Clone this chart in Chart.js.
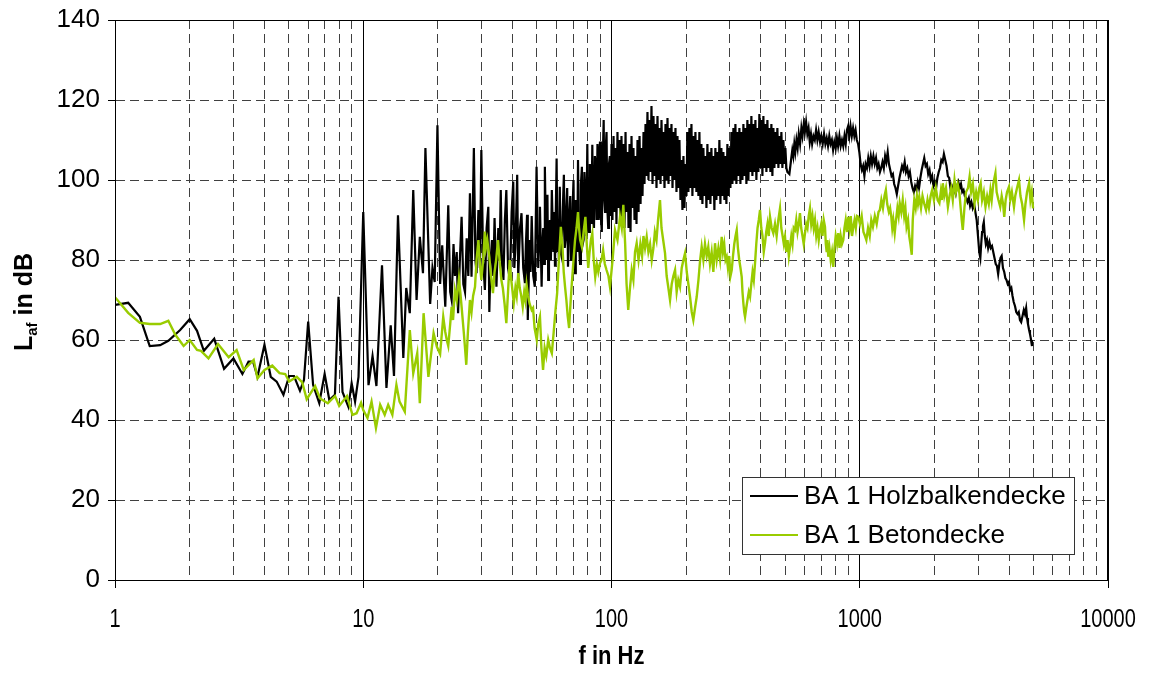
<!DOCTYPE html>
<html>
<head>
<meta charset="utf-8">
<script src="https://cdn.jsdelivr.net/npm/chart.js@4"></script>
<style>
  html, body { margin: 0; padding: 0; background: #fff; }
  canvas { display: block; }
</style>
</head>
<body>
<canvas id="c" width="1154" height="675"></canvas>
<script>
// ---- tick values / labels ----
const xGridValues = [1,2,3,4,5,6,7,8,9,10,20,30,40,50,60,70,80,90,100,200,300,400,500,600,700,800,900,1000,2000,3000,4000,5000,6000,7000,8000,9000,10000];
const xDecades = [1,10,100,1000,10000];
const xTickLabels = ['1','10','100','1000','10000'];
const yTicks = [0,20,40,60,80,100,120,140];
const seriesLabels = ['BA 1 Holzbalkendecke','BA 1 Betondecke'];
const seriesColors = ['#000000','#99CC00'];

// ---- series: [frequency Hz, level dB] ----
const holzPoints = [
[1,68.8],[1.13,69.3],[1.26,65.8],[1.38,58.5],[1.52,58.7],[1.64,59.8],[1.83,62.5],[2,65.2],[2.14,62.3],[2.28,57.3],
[2.51,60.3],[2.75,52.8],[3,55.4],[3.26,51.5],[3.45,54.6],[3.6,54.6],[3.75,50.8],[4,58.8],[4.24,50.8],[4.48,49.6],
[4.77,46.3],[5.03,51],[5.26,51],[5.56,47.3],[5.77,50],[6,64.6],[6.28,48.8],[6.65,44.2],[6.99,51.5],[7.3,45],
[7.69,46.3],[7.95,70.8],[8.25,47],[8.71,43.3],[8.98,49.2],[9.27,44.6],[9.57,50.8],[10,92],[10.5,48.7],[10.9,56],
[11.3,48.5],[11.9,78.7],[12.4,48],[12.9,63.7],[13.3,51],[13.8,91.2],[14.5,55.5],[14.9,73],[15.4,66.7],[15.9,97.5],
[16.4,70],[16.9,85.8],[17.4,76.7],[17.8,108],[18.6,69],[19,78],[19.4,74.5],[19.9,113.7],[20.4,74],[20.8,83.7],
[21.4,68.3],[22,93.7],[22.4,72],[22.7,70],[23.1,84],[23.4,76],[23.8,82],[24.1,66.7],[24.5,80],[24.9,90.8],
[25.3,74],[25.7,72],[26.1,85.4],[26.5,76],[26.9,96.7],[27.3,75.8],[27.9,108],[28.3,80],[28.6,76.7],[29.1,92.5],
[29.5,78],[29.9,107.5],[30.4,80],[30.9,72.5],[31.4,88],[31.9,93.3],[32.2,67],[32.6,80],[33,85],[33.4,76],
[33.8,90.5],[34.4,73.3],[35,88],[35.4,80],[35.8,97.5],[36.2,79],[36.7,75],[37.2,90],[37.7,97.5],[38.3,78],
[39,75],[39.6,92],[40.2,99.6],[40.6,78],[41,83],[41.7,101.3],[42.1,75.8],[42.8,88],[43.4,91.7],[44.1,78],
[44.8,74.2],[45.2,84],[45.7,91.3],[46,65],[46.8,85],[47.2,77],[47.7,91],[48.4,76],[49.1,73.3],[49.5,88],
[49.9,103.3],[50.7,78],[51.1,86],[51.5,93.3],[52.3,73.3],[52.7,84],[53.1,88],[53.5,79],[53.9,103.3],[54.6,80],
[55.2,96.3],[55.6,75],[56,86],[56.5,90],[57,80],[57.5,97.5],[58.3,82],[58.8,92],[59.2,78.3],[60.1,105.4],
[60.6,82],[61,88],[61.4,80],[61.9,98.3],[62.4,82],[63,80.8],[63.6,92],[64.3,101.3],[64.8,83],[65.3,85],
[65.8,93],[66.3,98],[66.8,78.3],[67.5,90],[68.2,96],[68.7,80],[69.3,82],[69.8,94],[70.3,100],[70.8,80],
[71.3,76.7],[71.8,95],[72.3,92],[72.8,82],[73.3,105],[74,84],[74.7,79],[75.3,99],[76,103.3],[76.6,84],
[77.2,85],[77.8,102],[78.5,96],[79.2,86],[79.9,109],[80.5,88],[81.2,87],[81.8,104],[82.4,100],[83,89],
[83.7,108.8],[84.3,90],[85,88],[85.7,106],[86.4,104],[87.1,90],[87.8,109],[88.3,93],[88.8,90],[89.4,107],
[89.9,109.6],[90.6,91],[91.4,87],[92.2,105],[93,115],[93.6,95],[94.2,92],[94.8,108],[95.5,112],[96.2,93],
[97,88],[97.7,104],[98.5,106],[99.2,91],
[100,109],[100.9,90],[101.9,111],[102.8,92],[103.8,108],[104.7,89],[105.7,112],[106.7,93],[107.7,110],[108.7,90],
[109.7,111],[110.7,91],[111.8,109],[112.8,88],[113.9,112],[114.9,92],[116,107],[117.1,88],[118.2,109],[119.3,87],
[120.4,111],[121.5,93],[122.6,108],[123.8,90],[124.9,106],[126.1,89],[127.3,110],[128.5,92],[129.7,111],[130.9,94],
[132.1,108],[133.3,96],[134.6,112],[135.8,99],[137.1,114],[138.3,101],[139.6,117],[140.9,100],[142.3,115],[143.6,102],
[144.9,118.5],[146.3,99],[147.6,116],[149,101],[150.4,114],[151.8,98],[153.2,116],[154.7,100],[156.1,113],[157.6,99],
[159,115],[160.5,101],[162,112],[163.5,98],[165,114],[166.6,100],[168.1,115.5],[169.7,99],[171.2,113],[172.8,101],
[174.4,114],[176.1,98],[177.7,112],[179.4,100],[181,113],[182.7,97],[184.4,111],[186.1,98],[187.8,110],[189.6,95],
[191.3,105],[193.1,92.5],[194.9,106],[196.7,93],[198.5,104],[200.4,96],[202.2,112],[204.1,97],[206,113],[207.9,98],
[209.9,114],[211.8,96],[213.8,111],[215.8,98],[217.8,112],[219.8,97],[221.9,110],[223.9,96],[226,112],[228.1,95],
[230.2,109],[232.4,94],[234.5,108],[236.7,96],[238.9,106],[241.2,93],[243.4,109],[245.7,95],[248,107],[250.3,94],
[252.6,108],[255,96],[257.3,106],[259.7,92.5],[262.1,108],[264.6,95],[267,107],[269.5,96],[272,110],[274.6,94],
[277.1,108],[279.7,96],[282.3,107],[285,95],[287.6,106],[290.3,94],[293,109],[295.7,96],[298.5,108],[301.3,98],
[304.1,112],[306.9,99],[309.8,113],[312.7,100],[315.6,114],[318.5,99],[321.5,112],[324.5,101],[327.5,113],[330.6,99],
[333.6,112],[336.8,100],[339.9,114],[343.1,101],[346.2,113],[349.5,99],[352.7,115],[356,100],[359.3,114],[362.7,102],
[366,116],[369.5,101],[372.9,114],[376.4,102],[379.9,115],[383.4,100],[387,113],[390.6,102],[394.2,116.5],[397.9,103],
[401.6,115],[405.4,101],[409.1,116],[412.9,103],[416.8,114],[420.7,102],[424.6,115],[428.5,103],[432.5,113],[436.6,102],
[440.6,114],[444.7,101],[448.9,113],[453.1,103],[457.3,112],[461.5,104],[465.8,113],[470.2,103],[474.5,111],[479,104],
[483.4,112],[487.9,103],[492.5,110],[497.1,104],[501.7,108],[506.4,103],[511.1,102],
[520.6,101.5],[530,105.5],[535,107.5],[540,106],[545,109],[550,107],[556,110],
[562,108],[568,111.5],[575,109],[582,113],[588,111],[595,114],[601,112],[608,114.5],[615,111.5],[622,113],
[629,109.5],[636,111.5],[643,109],[651,111],[659,110],[667,112.5],[675,110],[683,112],[692,109.5],[700,111],
[709,109],[718,111.5],[727,109],[736,110.5],[745,108.5],[754,111],[763,109],[772,110],[781,107.5],[790,109.5],
[800,108],[809,110.5],[818,108.5],[828,111],[838,108.5],[848,110],[858,108.5],[868,111],[878,109],[888,112.5],
[898,113.5],[908,111],[918,113.5],[929,111],[940,113],[951,111],[962,112.5],[973,110],[985,109],[996,107],
[1008,104],[1020,102.5],[1032,103.5],[1044,101],[1056,104],[1069,103],[1082,105.5],[1095,103.5],[1108,106],[1121,104],
[1135,106],[1149,104],[1163,105.5],[1177,103],[1191,104],[1206,102],[1220,103],[1235,104.5],[1250,103],[1265,106],
[1280,104.5],[1296,107],[1311,104],[1327,102.5],[1343,101],[1360,101.5],[1376,99],[1393,98],[1410,96.5],[1427,98.5],
[1445,100.5],[1462,102],[1480,103.5],[1498,102.5],[1517,104.5],[1535,102],[1554,103],[1573,101],[1592,102],[1612,99.5],
[1631,98],[1651,97],[1671,98.5],[1692,97.5],[1712,99.5],[1733,98],[1754,100.5],[1776,102.5],[1797,104],[1819,105.5],
[1842,103.5],[1864,104],[1887,101.5],[1910,102.5],[1933,100],[1957,101],[1981,98.5],[2005,99.5],[2030,98],[2054,100.5],
[2080,102],[2105,103],[2131,105],[2157,104.5],[2183,106.5],[2210,105],[2237,103.5],[2264,101],[2292,100.5],[2320,98],
[2348,98.5],[2377,97],[2406,97.5],[2435,96.5],[2465,98.5],[2495,99.5],[2526,98],[2557,99],[2588,97],[2619,97.5],
[2651,96],[2684,95.5],[2716,94.5],[2750,95.5],[2783,93.5],[2817,94.5],[2852,93],[2887,94],[2922,92],[2958,90],
[2994,86],[3030,82],[3060,80.5],[3085,84],[3110,87],[3135,88.5],[3160,89.5],[3190,86],[3220,84],[3255,85],
[3290,83],[3330,84.5],[3370,83],[3410,83.5],[3450,82],[3490,80.5],[3530,79],[3570,78.5],[3610,76.5],[3650,79],
[3690,80.5],[3730,81],[3775,78],[3820,77],[3860,75.5],[3900,75],[3945,74],[3990,74.5],[4035,72.5],[4080,73],
[4125,71],[4170,69.5],[4220,68.5],[4270,67],[4320,66.5],[4370,67],[4420,65],[4470,64.5],[4525,66],[4580,67.5],
[4630,66.5],[4680,68],[4720,65.5],[4760,64],[4810,62.5],[4850,61.5],[4900,60],[4940,58.5]
];

const betonPoints = [
[1,70.7],[1.13,66.8],[1.26,64.3],[1.38,64],[1.52,64],[1.64,64.8],[1.75,61.3],[1.89,58.5],[2,60],[2.14,57.5],
[2.22,57.3],[2.38,55.4],[2.6,59],[2.87,55.7],[3.09,57.5],[3.3,52.5],[3.62,55],[3.75,50.4],[4,52.5],[4.3,53.6],
[4.6,51.7],[4.85,51.5],[5.03,49.6],[5.4,50.8],[5.68,49.4],[5.92,45.2],[6.4,48.5],[6.7,45.4],[7.2,44.2],[7.7,46],
[8,43.5],[8.6,46],[9.05,41.3],[9.4,41.7],[9.8,44.3],[10,42.5],[10.4,40.5],[10.8,44.6],[11.25,38],[11.7,43.8],
[12.2,41.3],[12.6,43.8],[13.1,41.3],[13.6,48.8],[14,44.6],[14.7,42.1],[15.4,62.5],[15.9,51.7],[16.5,56.7],[16.9,44.2],
[17.5,66.7],[18.3,50.8],[19.2,61.7],[19.8,58.3],[20.4,56.5],[21,65.8],[21.4,62],[21.7,60],[22,58.5],[22.4,64],
[22.7,68.3],[23,65],[23.4,72.5],[23.8,70],[24.3,75.4],[24.6,72],[24.9,68.3],[25.4,62],[25.7,58],[26,53.8],
[26.4,62],[26.9,70],[27.3,67],[27.7,71],[28.2,73.3],[28.6,80],[29.1,85],[29.5,79],[29.9,75],[30.4,80],
[30.9,87.1],[31.2,83],[31.6,85],[32.2,80.8],[32.7,76],[33.3,71.7],[33.8,77],[34.3,80],[34.9,85],[35.4,80],
[36,75],[36.5,73],[37.1,69],[37.7,64.2],[38.3,72],[38.9,80],[39.3,76],[39.8,73],[40.4,69.2],[41,73],
[41.5,71],[42.1,76.7],[42.7,73],[43.3,71],[43.9,68.3],[44.5,72],[45,70],[45.5,73.8],[46.1,71],[46.8,69],
[47.7,67.5],[48.3,68],[49,63],[50,60],[50.7,64],[51.5,65.8],[52.2,58],[53,52.5],[53.8,58],[54.6,56],
[55.6,60],[56.5,58],[57.5,56.7],[58.5,62],[59.4,67],[60.4,71.7],[61.4,80],[62.5,88.3],[63.4,84],[64.2,77],
[65,73.3],[65.8,70],[66.6,66],[67.5,63],[68.2,68],[69,73],[70.3,80],[71.3,85],[72.3,88],[73.3,92],
[74,88],[74.8,85],[76,83.3],[77.2,87],[78.5,90.8],[79.5,84],[80.6,78],[81.6,82],[82.6,85],[83.7,86.7],
[84.8,80],[86,75.8],[87.3,79],[88.5,77],[89.9,79.2],[91.2,80],[92.5,82.5],[94,79],[95.5,77.5],[97.2,76],
[98.6,73.3],[101,80],[103.3,87.5],[105.7,85],[108.2,90.8],[110,88],[111.6,93.8],[113.5,84],[115,74],[116.8,67.5],
[118.7,73],[120.6,77.5],[122.5,75],[124.4,82],[126.3,84.2],[128.5,80],[130.7,84],[132.8,81],[134.5,86],[136.5,83],
[138.6,85.8],[140.8,82],[143,84],[145.2,80],[147.5,83],[149.5,87],[151.8,85],[154,90],[156.8,95],[159,88],
[161.5,85],[164.3,81.7],[166.8,76],[169.5,73],[172.1,70],[174.8,74],[177.5,76],[180.3,77.5],[183,72],[185.8,75],
[188.8,73.3],[191.8,78],[194.8,80],[197.8,81.7],[201,77],[204,74],[207.2,70.8],[210.5,67],[213.6,65],[217,68],
[220.4,70.8],[224,75],[227.5,80],[230.8,83.3],[234.5,80],[238,84],[241.8,81],[245.4,83.3],[249.3,79],[253.2,82],
[257.2,77],[261.2,84.2],[265.3,80],[269.5,83],[273.7,80],[277.9,85.8],[281.2,82],[284.5,84],[288,80],[291.2,80.8],
[294.5,78],[298,81],[301.5,76],[305,77.5],[308.6,81],[312.3,84],[316,86],[319.5,87.5],[323,83],[327,80],
[330.8,78],[334.6,75.8],[337,72],[340,69],[342.5,67],[345.1,65.8],[349,68],[353,70],[357.3,72],[361.5,70.8],
[365.7,74],[370,77],[374.3,75],[378.6,79.2],[383,84],[387.5,88],[392,90],[396.6,92.5],[401.2,88],[405.8,86],
[410.5,82],[415.3,84.2],[420,87],[425,89],[430,86],[435,90.8],[441.8,88],[448.6,86.7],[455.6,89],[462.6,86],
[469.9,90],[477.3,92.9],[483,88],[489,86],[494.5,84],[500,85.8],[506,82],[512,85],[518,81],[523.6,83.3],
[530,86],[536,84],[542,88],[548.5,87.5],[555,90],[561.5,87],[568,89],[574.5,91.7],[581,88],[588,86],
[594.8,84],[601.8,86.7],[608.8,89],[615.9,88],[623,91],[630.3,92.9],[637.6,89],[645,91],[652.5,88],[660.2,90],
[668,86],[675.8,88],[683.6,85],[691.6,87.5],[699.8,89],[707.9,86],[716,90],[724.4,88.3],[730,84],[736,82],
[741,85],[746.9,80.8],[755,83],[764,80],[773,82],[782.2,78.3],[791,83],[800,86],[810,84],[819.5,86.7],
[829,83],[838,86],[848,84],[858.3,85],[868,88],[878,90],[889,87],[899.3,90.8],[910,88],[920,91],
[931,86],[941.9,88.3],[953,90],[964,88],[975,91],[986.7,90.8],[1002,89],[1018,91],[1035,87],[1050,86],
[1063,85],[1080,88],[1097,86],[1113,90],[1130,88.3],[1150,91],[1170,89],[1190,92],[1205,92.5],[1222,95],
[1240,93],[1258,96],[1274,97.5],[1290,94],[1310,92],[1325,93],[1340,90.8],[1352,88],[1365,90],[1383,86.7],
[1400,90],[1418,93],[1434,91],[1449,94.2],[1470,92],[1490,95],[1510,91],[1527,93],[1544,88.3],[1565,90],
[1582,86],[1600,84],[1620,81.3],[1635,90],[1658,95],[1680,93],[1700,96],[1717,94],[1737,95.8],[1765,93],
[1790,96],[1820,94],[1849,92.5],[1875,95],[1900,93],[1930,96],[1958,97.5],[1990,95],[2025,98],[2060,95],
[2093,94.2],[2120,97],[2140,95],[2160,99.2],[2190,96],[2225,98],[2265,93.3],[2300,96],[2335,98],[2370,95],
[2408,100],[2440,97],[2480,99],[2520,96.7],[2550,93],[2575,90],[2600,87.5],[2640,93],[2680,97],[2730,98],
[2770,100.8],[2810,97],[2855,99],[2900,94.2],[2945,97],[2990,95],[3030,98],[3070,99.2],[3110,95],[3160,97],
[3210,93.3],[3260,96],[3310,94],[3360,97.5],[3400,95],[3450,99],[3520,101.7],[3560,97],[3620,95],[3680,93.3],
[3730,96],[3780,94],[3820,90.8],[3870,95],[3920,97],[3990,98.3],[4040,95],[4100,97],[4180,93.3],[4230,96],
[4300,98],[4380,100],[4440,96],[4510,94],[4590,90],[4650,94],[4720,97],[4810,99.2],[4870,95],[4930,97],
[4990,92.9]
];

// ---- helpers ----
const isDecade = v => xDecades.includes(v);
const toXY = pts => pts.map(p => ({ x: p[0], y: p[1] }));
const SANS = '"Liberation Sans", Arial, sans-serif';

const decor = {
  id: 'decor',
  beforeDraw(chart) {
    const c = chart.ctx;
    c.save();
    c.fillStyle = '#ffffff';
    c.fillRect(0, 0, chart.width, chart.height);
    c.restore();
  },
  afterDraw(chart) {
    const c = chart.ctx;
    const a = chart.chartArea;
    const xs = chart.scales.x;
    c.save();
    // plot frame
    c.strokeStyle = '#000';
    c.lineWidth = 1;
    c.setLineDash([]);
    c.strokeRect(Math.round(a.left) + 0.5, Math.round(a.top) + 0.5,
                 Math.round(a.right) - Math.round(a.left) - 1, Math.round(a.bottom) - Math.round(a.top));
    // x tick labels (condensed face like the original)
    c.fillStyle = '#000';
    c.textAlign = 'center';
    c.textBaseline = 'middle';
    c.font = '25px ' + SANS;
    xDecades.forEach((v, i) => {
      c.save();
      c.translate(xs.getPixelForValue(v), 620);
      c.scale(0.8, 1);
      c.fillText(xTickLabels[i], 0, 0);
      c.restore();
    });
    // x axis title
    c.save();
    c.translate((a.left + a.right) / 2, 657);
    c.scale(0.88, 1);
    c.font = 'bold 25px ' + SANS;
    c.fillText('f in Hz', 0, 0);
    c.restore();
    // legend box
    const bx = 742.5, by = 477.5, bw = 332, bh = 77;
    c.fillStyle = '#fff';
    c.fillRect(bx, by, bw, bh);
    c.strokeStyle = '#333';
    c.lineWidth = 1;
    c.strokeRect(bx, by, bw, bh);
    const rows = [496, 535];
    chart.data.datasets.forEach((ds, i) => {
      const y = rows[i];
      c.strokeStyle = ds.borderColor;
      c.lineWidth = 2;
      c.beginPath();
      c.moveTo(750, y);
      c.lineTo(798, y);
      c.stroke();
      c.fillStyle = '#000';
      c.font = '26px ' + SANS;
      c.textBaseline = 'middle';
      c.textAlign = 'left';
      c.fillText(ds.label, 804, y + 1);
    });
    // y axis title with subscript
    c.save();
    c.translate(23, 302);
    c.rotate(-Math.PI / 2);
    c.fillStyle = '#000';
    c.textBaseline = 'alphabetic';
    c.textAlign = 'left';
    const big = 'bold 25px ' + SANS, small = 'bold 15px ' + SANS;
    c.font = big; const wL = c.measureText('L').width; const wR = c.measureText(' in dB').width;
    c.font = small; const wS = c.measureText('af').width;
    const x0 = -(wL + wS + wR) / 2;
    c.font = big; c.fillText('L', x0, 9);
    c.font = small; c.fillText('af', x0 + wL, 14);
    c.font = big; c.fillText(' in dB', x0 + wL + wS, 9);
    c.restore();
    c.restore();
  }
};

new Chart(document.getElementById('c'), {
  type: 'line',
  data: {
    datasets: [
      { label: seriesLabels[0], data: toXY(holzPoints), borderColor: seriesColors[0], borderWidth: 2.2,
        pointRadius: 0, tension: 0, fill: false, order: 1 },
      { label: seriesLabels[1], data: toXY(betonPoints), borderColor: seriesColors[1], borderWidth: 2.4,
        pointRadius: 0, tension: 0, fill: false, order: 0 }
    ]
  },
  options: {
    responsive: false,
    animation: false,
    devicePixelRatio: 1,
    layout: { padding: { top: 20, right: 46, left: 0, bottom: 0 } },
    plugins: { legend: { display: false }, tooltip: { enabled: false } },
    scales: {
      x: {
        type: 'logarithmic',
        min: 1, max: 10000,
        afterBuildTicks: s => { s.ticks = xGridValues.map(v => ({ value: v })); },
        afterFit: s => { s.height = 95; s.paddingLeft = 0; s.paddingRight = 0; },
        ticks: {
          autoSkip: false, maxRotation: 0, minRotation: 0, padding: 18,
          color: '#000', font: { family: SANS, size: 25 },
          callback: () => ''
        },
        grid: {
          color: c => (c.tick && isDecade(c.tick.value)) ? '#000000' : '#404040',
          lineWidth: 1,
          tickLength: 8,
          tickColor: c => (c.tick && isDecade(c.tick.value)) ? '#000000' : 'rgba(0,0,0,0)'
        },
        border: {
          display: true, color: '#000', width: 1,
          dash: c => (c.tick && !isDecade(c.tick.value)) ? [9, 5] : []
        }
      },
      y: {
        type: 'linear',
        min: 0, max: 140,
        afterBuildTicks: s => { s.ticks = yTicks.map(v => ({ value: v })); },
        afterFit: s => { s.width = 115; s.paddingTop = 0; s.paddingBottom = 0; },
        ticks: { color: '#000', padding: 8, font: { family: SANS, size: 26 } },
        grid: { color: '#404040', lineWidth: 1, tickLength: 7, tickColor: '#000' },
        border: {
          display: true, color: '#000', width: 1,
          dash: c => (c.tick && c.tick.value > 0 && c.tick.value < 140) ? [9, 5] : []
        }
      }
    }
  },
  plugins: [decor]
});
</script>
</body>
</html>
